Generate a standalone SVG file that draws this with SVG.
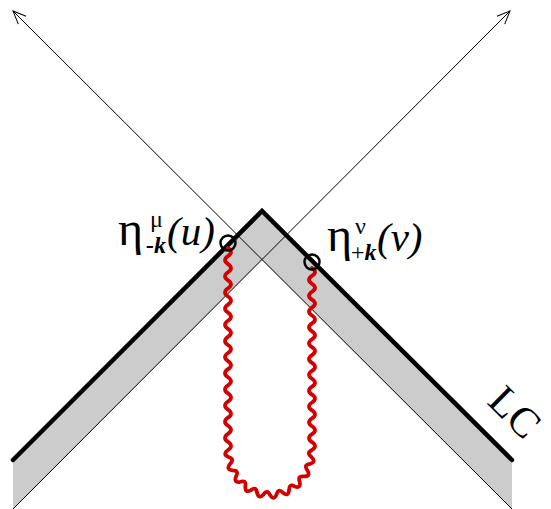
<svg xmlns="http://www.w3.org/2000/svg" width="551" height="509" viewBox="0 0 551 509">
<style>
.axis{fill:none;stroke:#000;stroke-width:1}
.lc{fill:none;stroke:#000;stroke-width:4.5;stroke-linecap:round;stroke-linejoin:miter}
.band{fill:#cccccc;stroke:none}
.gluon{fill:none;stroke:#d40000;stroke-width:3.8;stroke-linecap:round;stroke-linejoin:round}
.vtx{fill:none;stroke:#000;stroke-width:2.5}
.lbl{font-family:"Liberation Serif",serif;fill:#000}
.eta{font-size:48px}
.big{font-size:41px}
.sm{font-size:24px}
.it{font-style:italic}
.bi{font-style:italic;font-weight:bold}
</style>
<defs>
<marker id="arr" markerUnits="userSpaceOnUse" markerWidth="16" markerHeight="14" refX="14" refY="7" orient="auto" viewBox="0 0 16 14">
<path d="M1,1.5 L14,7 L1,12.5" fill="none" stroke="#000" stroke-width="1"/>
</marker>
</defs>
<g id="band">
<polygon class="band" points="13,460 262,211 512,460 512,509 262,260 13,509"/>
</g>
<g id="connectors">
<line class="axis" x1="512" y1="509" x2="13" y2="11" marker-end="url(#arr)"/>
<line class="axis" x1="13" y1="509" x2="510" y2="11" marker-end="url(#arr)"/>
</g>
<g id="lightcone">
<polyline class="lc" points="13,460 262,211 512,460"/>
</g>
<g id="propagator">
<path class="gluon" d="M228,248 Q234,252.04 228,256.08 T228,264.16 T228,272.24 T228,280.32 T228,288.40 T228,296.48 T228,304.56 T228,312.64 T228,320.72 T228,328.80 T228,336.88 T228,344.96 T228,353.04 T228,361.12 T228,369.20 T228,377.28 T228,385.36 T228,393.44 T228,401.52 T228,409.60 T228,417.68 T228,425.76 T228,433.84 T228,441.92 T228,450
Q222.15,454.00 228.52,457.04 Q234.99,459.10 230.06,463.91 Q225.65,469.52 232.58,470.43 Q239.30,470.38 236.02,476.45 Q233.50,483.12 240.30,481.82 Q246.62,479.66 245.31,486.41 Q244.92,493.48 250.93,490.10 Q256.22,486.03 257.02,492.80 Q258.79,499.59 263.43,494.45 Q267.18,488.88 270,495 Q273.77,500.84 276.57,494.45 Q278.40,487.92 282.98,492.80 Q288.37,497.12 289.07,490.10 Q288.81,483.25 294.69,486.41 Q301.17,488.78 299.70,481.82 Q297.38,475.33 303.98,476.45 Q310.93,476.64 307.42,470.43 Q303.26,464.92 309.94,463.91 Q316.68,461.90 311.48,457.04 Q305.89,453.06 312,450
Q318,446.04 312,442.09 T312,434.17 T312,426.26 T312,418.35 T312,410.43 T312,402.52 T312,394.61 T312,386.70 T312,378.78 T312,370.87 T312,362.96 T312,355.04 T312,347.13 T312,339.22 T312,331.30 T312,323.39 T312,315.48 T312,307.57 T312,299.65 T312,291.74 T312,283.83 T312,275.91 T312,268"/>
</g>
<g id="vertex-left">
<circle class="vtx" cx="228" cy="243" r="7.5"/>
<text class="lbl eta" x="118" y="245">η</text>
<text class="lbl sm" x="150" y="227">μ</text>
<text class="lbl sm bi" x="146" y="253">-k</text>
<text class="lbl big it" x="167" y="245">(u)</text>
</g>
<g id="vertex-right">
<circle class="vtx" cx="312" cy="262" r="7.5"/>
<text class="lbl eta" x="327" y="251">η</text>
<text class="lbl sm" x="355" y="234">ν</text>
<text class="lbl sm" x="351" y="260">+<tspan class="bi">k</tspan></text>
<text class="lbl big it" x="377" y="251">(v)</text>
</g>
<g id="label-lc">
<text class="lbl" font-size="42" transform="translate(486,403) rotate(45)">LC</text>
</g>
</svg>
